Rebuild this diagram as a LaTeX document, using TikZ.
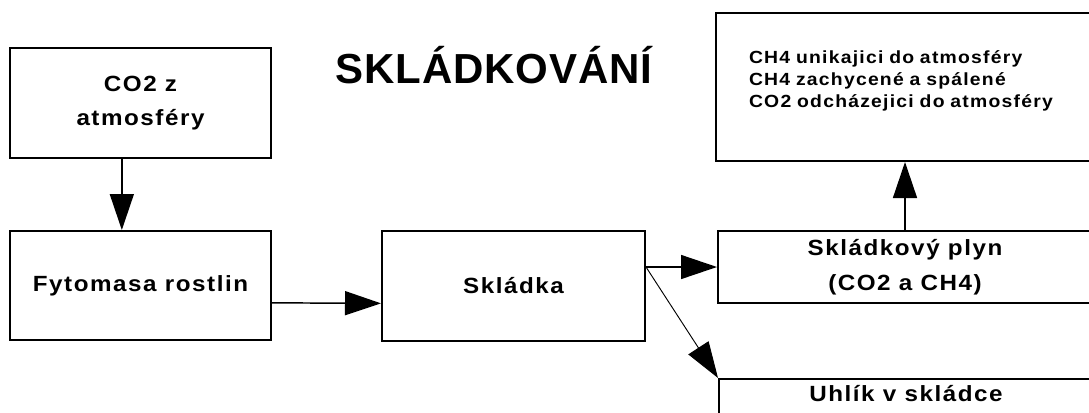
\documentclass[tikz,border=0pt]{standalone}
\usepackage{fontspec}
\setmainfont{Liberation Sans}
\newfontfamily\boxfont[LetterSpace=7, FakeStretch=1.1]{Liberation Sans}
\newfontfamily\titlefont[LetterSpace=2]{Liberation Sans}
\usetikzlibrary{arrows.meta}

\begin{document}
\begin{tikzpicture}[x=0.75pt, y=-0.75pt,
    box/.style={draw, line width=1.5pt, align=center, inner sep=0pt,
      font=\boxfont\bfseries\fontsize{16.5}{26}\selectfont},
    arr/.style={line width=1.1pt, -{Triangle[length=27pt, width=18pt]}}]
  \useasboundingbox (0,0) rectangle (1089,412);
  \clip (0,0) rectangle (1089,412);
  % Titel
  \node[font=\titlefont\bfseries\fontsize{31.5}{36}\selectfont, anchor=base] (titel) at (494,83) {SKLÁDKOVÁNÍ};
  % Bokse
  \node[box, minimum width=195.75pt, minimum height=82.5pt] (co2) at (140.5,103) {CO2 z\\atmosféry};
  \node[box, minimum width=195.75pt, minimum height=81.75pt] (fyto) at (140.5,285.5) {Fytomasa rostlin};
  \node[box, minimum width=197.25pt, minimum height=82.5pt] (skladka) at (513.5,286) {Skládka};
  \node[box, minimum width=280.5pt, minimum height=54pt] (plyn) at (905,267) {Skládkový plyn\\(CO2 a CH4)};
  \node[box, anchor=north west, minimum width=280.5pt, inner ysep=5pt, text depth=30pt] (uhlik) at (718,378) {Uhlík v skládce};
  \node[box, anchor=north west, align=left, text width=233.25pt, inner xsep=24.75pt,
    inner ysep=27.5pt, text height=10pt, text depth=46pt,
    font=\boxfont\bfseries\fontsize{13.2}{16.7}\selectfont] (emise) at (715,12)
    {CH4 unikajici do atmosféry\\CH4 zachycené a spálené\\CO2 odcházejici do atmosféry};
  % Pile
  \coordinate (fork) at (skladka.east |- plyn.west);
  \draw[arr] ([xshift=-14pt]co2.south) -- ([xshift=-14pt]fyto.north);
  \draw[arr] ([yshift=-13pt]fyto.east) -- ([yshift=-13pt]skladka.west);
  \draw[arr] (fork) -- (plyn.west);
  \draw[arr, line width=0.7pt] (fork) -- (uhlik.north west);
  \draw[arr] (plyn.north) -- (plyn.north |- emise.south);
\end{tikzpicture}
\end{document}
